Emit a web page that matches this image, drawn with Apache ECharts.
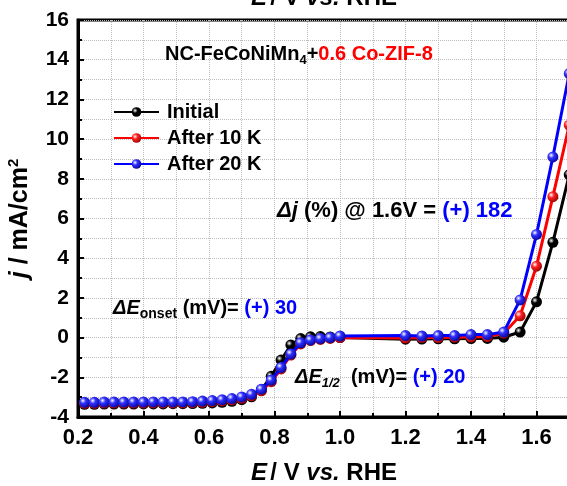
<!DOCTYPE html>
<html>
<head>
<meta charset="utf-8">
<script src="https://cdn.jsdelivr.net/npm/echarts@6/dist/echarts.min.js"></script>
<style>html,body{margin:0;padding:0;background:#fff;}#c{width:567px;height:486px;}</style>
</head>
<body>
<div id="c"></div>
<script>
// Potential (V vs. RHE)
var potential = [0.22,0.25,0.28,0.31,0.34,0.37,0.40,0.43,0.46,0.49,0.52,0.55,0.58,0.61,0.64,0.67,0.70,0.73,0.76,0.79,0.82,0.85,0.88,0.91,0.94,0.97,1.00,1.20,1.25,1.30,1.35,1.40,1.45,1.50,1.55,1.60,1.65,1.70];
// Current density (mA/cm2)
var initial = [-3.36,-3.36,-3.35,-3.35,-3.35,-3.35,-3.34,-3.34,-3.34,-3.33,-3.33,-3.32,-3.31,-3.29,-3.26,-3.21,-3.13,-2.98,-2.62,-1.95,-1.13,-0.37,-0.05,0.04,0.05,0.03,0.00,-0.08,-0.07,-0.06,-0.06,-0.05,-0.04,0.02,0.28,1.80,4.80,8.20];
var after10k = [-3.31,-3.31,-3.30,-3.30,-3.30,-3.30,-3.30,-3.29,-3.29,-3.29,-3.29,-3.28,-3.26,-3.23,-3.19,-3.14,-3.06,-2.93,-2.68,-2.22,-1.58,-0.88,-0.32,-0.15,-0.09,-0.04,0.00,-0.02,0.00,0.00,0.02,0.03,0.05,0.22,1.10,3.60,7.10,10.70];
var after20k = [-3.26,-3.26,-3.25,-3.25,-3.25,-3.25,-3.25,-3.24,-3.24,-3.24,-3.24,-3.23,-3.20,-3.17,-3.13,-3.07,-2.99,-2.86,-2.60,-2.14,-1.50,-0.82,-0.26,-0.12,-0.05,0.00,0.08,0.10,0.08,0.10,0.10,0.15,0.15,0.28,1.90,5.20,9.10,13.30];
var seriesNames = ['Initial','After 10 K','After 20 K'];
var xTicks = {min:0.2, max:1.8, interval:0.2};
var yTicks = {min:-4, max:16, interval:2};

function pairs(ys){ return potential.map(function(x,i){return [x, ys[i]];}); }
function ball(c, dark){
  return {type:'radial', x:0.35, y:0.35, r:0.75, colorStops:[{offset:0,color:'#ffffff'},{offset:0.35,color:c},{offset:1,color:dark}]};
}
var F = 'Arial, "Liberation Sans", Helvetica, sans-serif';
var colors = [['#000000','#000000','#000000'],['#ff0000','#ff2020','#900000'],['#0000ff','#3030ff','#000090']];
var datas = [initial, after10k, after20k];

var chart = echarts.init(document.getElementById('c'), null, {renderer:'canvas'});
var axisCommon = {
  type:'value',
  axisLine:{show:true, onZero:false, lineStyle:{color:'#000', width:3}},
  axisTick:{show:true, inside:true, length:6, lineStyle:{color:'#000', width:2}},
  minorTick:{show:true, splitNumber:2, length:4, lineStyle:{color:'#000', width:2}},
  splitLine:{show:true, lineStyle:{color:'#bdbdbd', type:'dotted', width:1}},
  minorSplitLine:{show:true, lineStyle:{color:'#bdbdbd', type:'dotted', width:1}}
};
var nameRich = {i:{fontFamily:F,fontWeight:'bold',fontStyle:'italic',fontSize:24,color:'#000'},n:{fontFamily:F,fontWeight:'bold',fontSize:24,color:'#000'}};
var nameRichFill = {i:{fontFamily:F,fontWeight:'bold',fontStyle:'italic',fontSize:24,fill:'#000'},n:{fontFamily:F,fontWeight:'bold',fontSize:24,fill:'#000'}};
var option = {
  animation:false,
  backgroundColor:'#fff',
  grid:{left:78, right:-35, top:20, bottom:69, containLabel:false, outerBoundsMode:'none',
        show:true, borderColor:'#000', borderWidth:3, backgroundColor:'transparent'},
  xAxis:[
    Object.assign({}, axisCommon, {
      position:'bottom', min:xTicks.min, max:xTicks.max, interval:xTicks.interval,
      axisLabel:{color:'#000', fontFamily:F, fontWeight:'bold', fontSize:22, margin:10, formatter:function(v){return v.toFixed(1);}},
      name:'{i|E} {n|/ V }{i|vs.}{n| RHE}', nameLocation:'middle', nameGap:44,
      nameTextStyle:{rich:nameRich, padding:[0,32,0,0]}
    })
  ],
  yAxis:[Object.assign({}, axisCommon, {
    min:yTicks.min, max:yTicks.max, interval:yTicks.interval,
    axisLabel:{color:'#000', fontFamily:F, fontWeight:'bold', fontSize:21, margin:9},
    name:'{i|j}{n| / mA/cm}{s|2}', nameLocation:'middle', nameGap:44,
    nameTextStyle:{rich:{
      i:{fontFamily:F,fontWeight:'bold',fontStyle:'italic',fontSize:25,color:'#000',lineHeight:28},
      n:{fontFamily:F,fontWeight:'bold',fontSize:25,color:'#000',lineHeight:28},
      s:{fontFamily:F,fontWeight:'bold',fontSize:15,color:'#000',lineHeight:15,verticalAlign:'top'}
    }}
  })],
  legend:{
    left:113, top:102, orient:'vertical', padding:0, itemWidth:45, itemHeight:12, itemGap:6,
    textStyle:{fontFamily:F, fontWeight:'bold', fontSize:20, lineHeight:20, color:'#000', padding:[0,0,0,3]},
    data:seriesNames
  },
  series: datas.map(function(d,i){
    return {
      name:seriesNames[i], type:'line', xAxisIndex:0, data:pairs(d),
      symbol:'circle', symbolSize:11, showAllSymbol:true,
      lineStyle:{color:colors[i][0], width:3},
      itemStyle:{color:ball(colors[i][1], colors[i][2]), borderWidth:0},
      emphasis:{disabled:true}, z:2+i
    };
  }),
  graphic:[
    {type:'text', x:324, y:-2, z:10, style:{
      text:'{i|E} {n|/ V }{i|vs.}{n| RHE}', align:'center', verticalAlign:'middle',
      rich:nameRichFill}},
    {type:'text', left:165, top:44, z:10, style:{
      text:'{a|NC-FeCoNiMn}{s|4}{a|+}{r|0.6 Co-ZIF-8}',
      rich:{
        a:{fontFamily:F,fontWeight:'bold',fontSize:20,fill:'#000',lineHeight:26},
        s:{fontFamily:F,fontWeight:'bold',fontSize:13,fill:'#000',lineHeight:15,verticalAlign:'bottom'},
        r:{fontFamily:F,fontWeight:'bold',fontSize:20,fill:'#ff0000',lineHeight:26}
      }}},
    {type:'text', left:277, top:200, z:10, style:{
      text:'{i|Δj}{a| (%) @ 1.6V = }{b|(+) 182}',
      rich:{
        i:{fontFamily:F,fontWeight:'bold',fontStyle:'italic',fontSize:22,fill:'#000',lineHeight:26},
        a:{fontFamily:F,fontWeight:'bold',fontSize:22,fill:'#000',lineHeight:26},
        b:{fontFamily:F,fontWeight:'bold',fontSize:22,fill:'#0000ff',lineHeight:26}
      }}},
    {type:'text', left:113, top:298, z:10, style:{
      text:'{i|ΔE}{s|onset}{a| (mV)= }{b|(+) 30}',
      rich:{
        i:{fontFamily:F,fontWeight:'bold',fontStyle:'italic',fontSize:20,fill:'#000',lineHeight:26},
        s:{fontFamily:F,fontWeight:'bold',fontSize:14,fill:'#000',lineHeight:14,verticalAlign:'bottom'},
        a:{fontFamily:F,fontWeight:'bold',fontSize:20,fill:'#000',lineHeight:26},
        b:{fontFamily:F,fontWeight:'bold',fontSize:20,fill:'#0000ff',lineHeight:26}
      }}},
    {type:'text', left:295, top:367, z:10, style:{
      text:'{i|ΔE}{s|1/2}{a|  (mV)= }{b|(+) 20}',
      rich:{
        i:{fontFamily:F,fontWeight:'bold',fontStyle:'italic',fontSize:20,fill:'#000',lineHeight:26},
        s:{fontFamily:F,fontWeight:'bold',fontStyle:'italic',fontSize:13,fill:'#000',lineHeight:14,verticalAlign:'bottom'},
        a:{fontFamily:F,fontWeight:'bold',fontSize:20,fill:'#000',lineHeight:26},
        b:{fontFamily:F,fontWeight:'bold',fontSize:20,fill:'#0000ff',lineHeight:26}
      }}}
  ]
};
chart.setOption(option);
</script>
</body>
</html>
